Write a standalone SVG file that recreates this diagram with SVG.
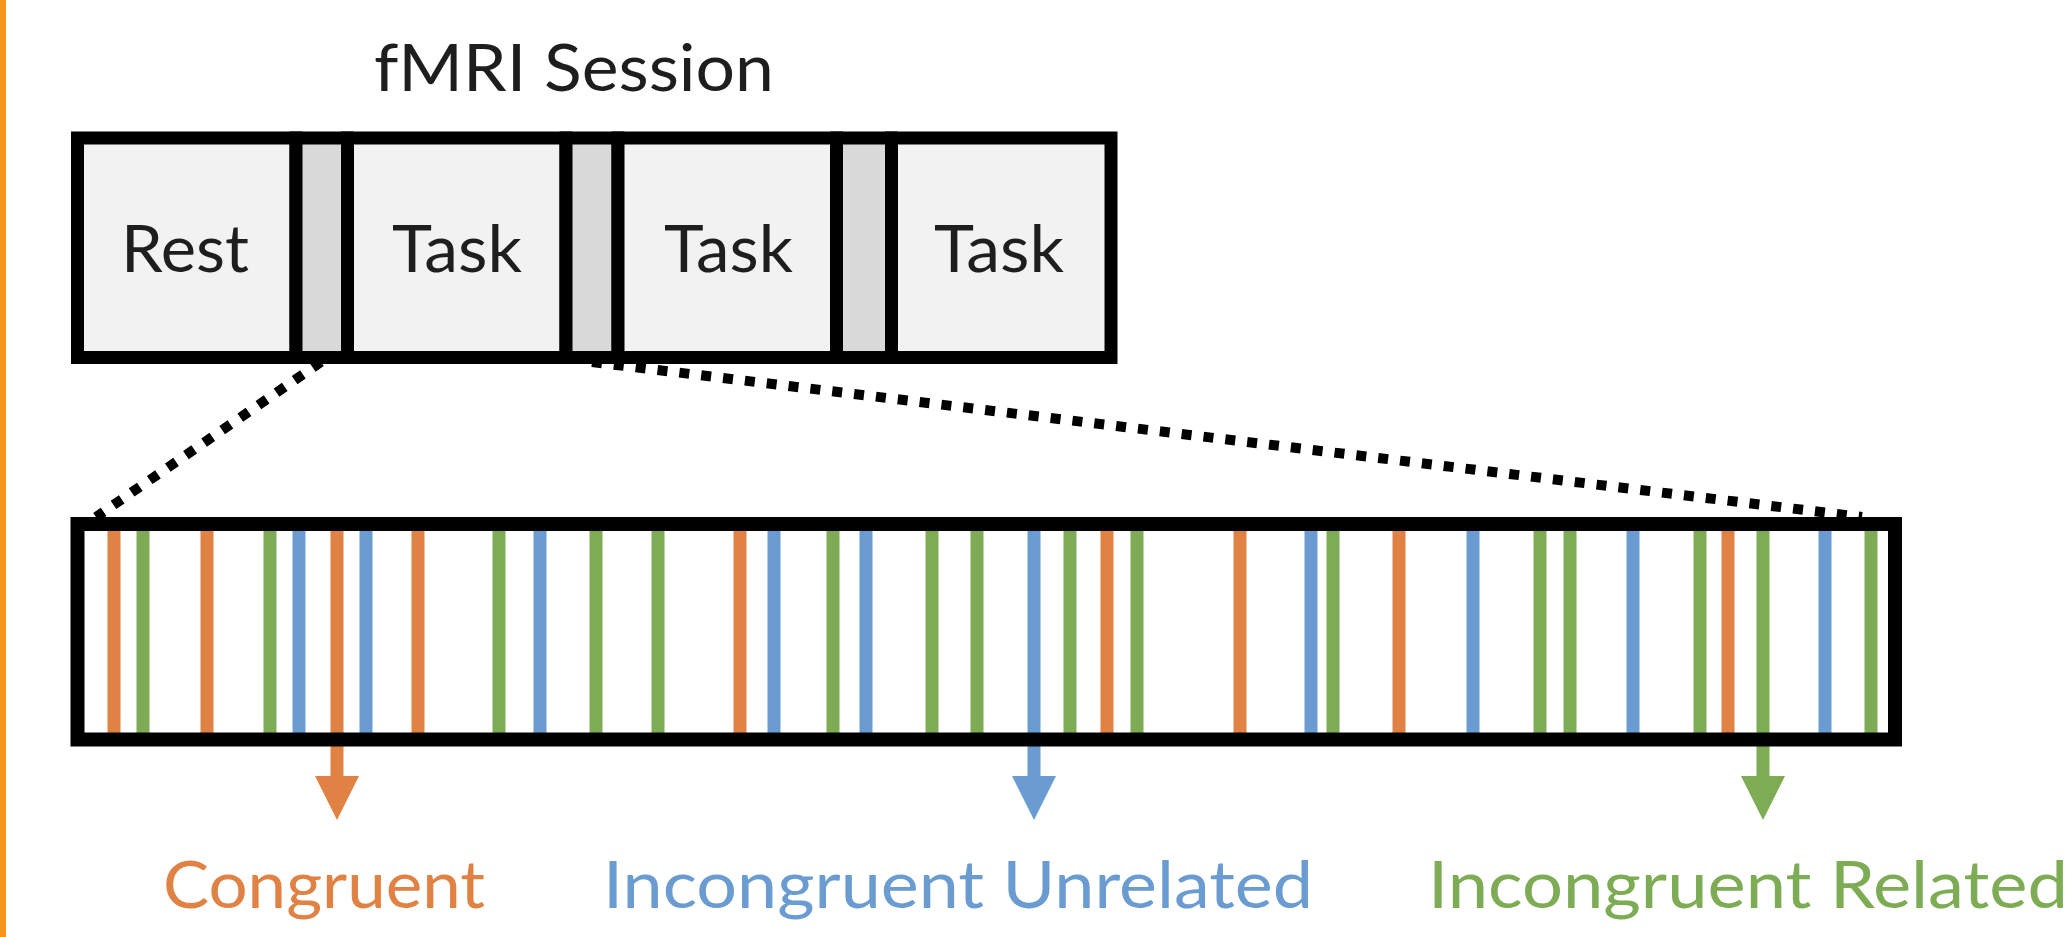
<svg xmlns="http://www.w3.org/2000/svg" width="2066" height="937" viewBox="0 0 2066 937">
  <defs>
    <style>
      .lbl { font-family: Lato, "Open Sans", "Liberation Sans", sans-serif; font-weight: 400; }
      .cell { fill: #f2f2f2; stroke: #000; stroke-width: 13; }
      .gap { fill: #d9d9d9; stroke: #000; stroke-width: 13; }
      .dark { fill: #1e1e1e; font-size: 65px; }
      .bar { stroke-width: 13; fill: none; }
      .con { stroke: #e08244; }
      .inc { stroke: #6a9bd1; }
      .rel { stroke: #7dac55; }
      .dots { stroke: #000; stroke-width: 10; stroke-dasharray: 10 12; fill: none; }
      .ev { font-size: 66px; }
    </style>
    <marker id="head-con" viewBox="0 0 44 44" markerWidth="44" markerHeight="44" refX="0" refY="22" orient="auto" markerUnits="userSpaceOnUse">
      <path d="M0,0 L44,22 L0,44 Z" fill="#e08244"/>
    </marker>
    <marker id="head-inc" viewBox="0 0 44 44" markerWidth="44" markerHeight="44" refX="0" refY="22" orient="auto" markerUnits="userSpaceOnUse">
      <path d="M0,0 L44,22 L0,44 Z" fill="#6a9bd1"/>
    </marker>
    <marker id="head-rel" viewBox="0 0 44 44" markerWidth="44" markerHeight="44" refX="0" refY="22" orient="auto" markerUnits="userSpaceOnUse">
      <path d="M0,0 L44,22 L0,44 Z" fill="#7dac55"/>
    </marker>
  </defs>

  <rect width="2066" height="937" fill="#ffffff"/>
  <!-- left accent strip -->
  <rect x="0" y="0" width="6" height="937" fill="#f7941d"/>

  <!-- zoom-in connectors (drawn first so the boxes cover their ends) -->
  <g id="connectors">
    <line class="dots" x1="321" y1="362" x2="96" y2="517"/>
    <line class="dots" x1="592" y1="362" x2="1862" y2="517"/>
    <line class="bar con" x1="337" y1="740" x2="337" y2="776" marker-end="url(#head-con)"/>
    <line class="bar inc" x1="1034" y1="740" x2="1034" y2="776" marker-end="url(#head-inc)"/>
    <line class="bar rel" x1="1763" y1="740" x2="1763" y2="776" marker-end="url(#head-rel)"/>
  </g>

  <g id="session-title">
    <text class="lbl dark" x="374" y="91" textLength="400" lengthAdjust="spacingAndGlyphs">fMRI Session</text>
  </g>

  <!-- session blocks -->
  <g id="rest-block">
    <rect class="cell" x="77.5" y="138" width="218.5" height="219.5"/>
    <text class="lbl dark" x="121" y="272" textLength="128" lengthAdjust="spacingAndGlyphs">Rest</text>
  </g>
  <g id="gap-1"><rect class="gap" x="296" y="138" width="51.5" height="219.5"/></g>
  <g id="task-block-1">
    <rect class="cell" x="347.5" y="138" width="218.5" height="219.5"/>
    <text class="lbl dark" x="392" y="272" textLength="130" lengthAdjust="spacingAndGlyphs">Task</text>
  </g>
  <g id="gap-2"><rect class="gap" x="566" y="138" width="52" height="219.5"/></g>
  <g id="task-block-2">
    <rect class="cell" x="618" y="138" width="218.5" height="219.5"/>
    <text class="lbl dark" x="664" y="272" textLength="129" lengthAdjust="spacingAndGlyphs">Task</text>
  </g>
  <g id="gap-3"><rect class="gap" x="836.5" y="138" width="55" height="219.5"/></g>
  <g id="task-block-3">
    <rect class="cell" x="891.5" y="138" width="219.5" height="219.5"/>
    <text class="lbl dark" x="934" y="272" textLength="130" lengthAdjust="spacingAndGlyphs">Task</text>
  </g>

  <!-- expanded task run with event onsets -->
  <g id="task-timeline">
    <rect x="85" y="531" width="1804" height="200" fill="#ffffff"/>
    <g id="events">
      <line class="bar con" x1="114" y1="526" x2="114" y2="736"/>
      <line class="bar rel" x1="143" y1="526" x2="143" y2="736"/>
      <line class="bar con" x1="207" y1="526" x2="207" y2="736"/>
      <line class="bar rel" x1="270" y1="526" x2="270" y2="736"/>
      <line class="bar inc" x1="299" y1="526" x2="299" y2="736"/>
      <line class="bar con" x1="337" y1="526" x2="337" y2="736"/>
      <line class="bar inc" x1="366" y1="526" x2="366" y2="736"/>
      <line class="bar con" x1="418" y1="526" x2="418" y2="736"/>
      <line class="bar rel" x1="499" y1="526" x2="499" y2="736"/>
      <line class="bar inc" x1="540" y1="526" x2="540" y2="736"/>
      <line class="bar rel" x1="596" y1="526" x2="596" y2="736"/>
      <line class="bar rel" x1="658" y1="526" x2="658" y2="736"/>
      <line class="bar con" x1="740" y1="526" x2="740" y2="736"/>
      <line class="bar inc" x1="774" y1="526" x2="774" y2="736"/>
      <line class="bar rel" x1="833" y1="526" x2="833" y2="736"/>
      <line class="bar inc" x1="866" y1="526" x2="866" y2="736"/>
      <line class="bar rel" x1="932" y1="526" x2="932" y2="736"/>
      <line class="bar rel" x1="977" y1="526" x2="977" y2="736"/>
      <line class="bar inc" x1="1034" y1="526" x2="1034" y2="736"/>
      <line class="bar rel" x1="1070" y1="526" x2="1070" y2="736"/>
      <line class="bar con" x1="1107" y1="526" x2="1107" y2="736"/>
      <line class="bar rel" x1="1137" y1="526" x2="1137" y2="736"/>
      <line class="bar con" x1="1240" y1="526" x2="1240" y2="736"/>
      <line class="bar inc" x1="1311" y1="526" x2="1311" y2="736"/>
      <line class="bar rel" x1="1333" y1="526" x2="1333" y2="736"/>
      <line class="bar con" x1="1399" y1="526" x2="1399" y2="736"/>
      <line class="bar inc" x1="1473" y1="526" x2="1473" y2="736"/>
      <line class="bar rel" x1="1540" y1="526" x2="1540" y2="736"/>
      <line class="bar rel" x1="1570" y1="526" x2="1570" y2="736"/>
      <line class="bar inc" x1="1633" y1="526" x2="1633" y2="736"/>
      <line class="bar rel" x1="1700" y1="526" x2="1700" y2="736"/>
      <line class="bar con" x1="1728" y1="526" x2="1728" y2="736"/>
      <line class="bar rel" x1="1763" y1="526" x2="1763" y2="736"/>
      <line class="bar inc" x1="1825" y1="526" x2="1825" y2="736"/>
      <line class="bar rel" x1="1871" y1="526" x2="1871" y2="736"/>
    </g>
    <rect x="77.5" y="524" width="1817.5" height="215.5" fill="none" stroke="#000" stroke-width="14"/>
  </g>

  <!-- condition labels -->
  <g id="label-congruent">
    <text class="lbl ev" x="163" y="908" fill="#e08244" textLength="322" lengthAdjust="spacingAndGlyphs">Congruent</text>
  </g>
  <g id="label-incongruent-unrelated">
    <text class="lbl ev" x="603" y="908" fill="#6a9bd1" textLength="710" lengthAdjust="spacingAndGlyphs">Incongruent Unrelated</text>
  </g>
  <g id="label-incongruent-related">
    <text class="lbl ev" x="1428" y="908" fill="#7dac55" textLength="640" lengthAdjust="spacingAndGlyphs">Incongruent Related</text>
  </g>
</svg>
